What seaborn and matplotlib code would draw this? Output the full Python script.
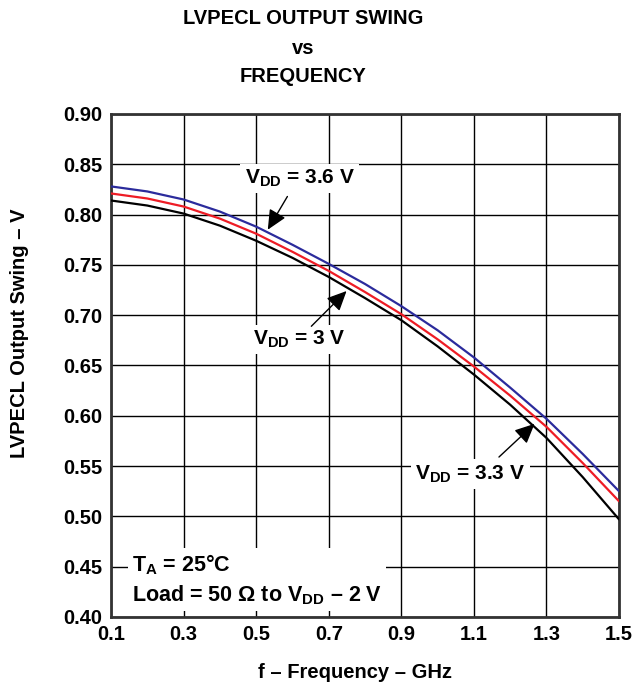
import numpy as np
import pandas as pd
import matplotlib
matplotlib.use("Agg")
import matplotlib.pyplot as plt
import seaborn as sns

# frequency in GHz
freq = [0.1, 0.2, 0.3, 0.4, 0.5, 0.6, 0.7, 0.8, 0.9, 1.0, 1.1, 1.2, 1.3, 1.4, 1.5]

# output swing in V for each supply
swing_36 = [0.828, 0.823, 0.815, 0.803, 0.788, 0.770, 0.751, 0.731, 0.709, 0.685, 0.658, 0.628, 0.597, 0.562, 0.525]
swing_33 = [0.821, 0.816, 0.808, 0.796, 0.781, 0.763, 0.744, 0.723, 0.701, 0.676, 0.649, 0.620, 0.589, 0.553, 0.515]
swing_30 = [0.814, 0.809, 0.801, 0.789, 0.774, 0.757, 0.738, 0.717, 0.695, 0.669, 0.641, 0.611, 0.578, 0.539, 0.497]

series = ["3.6 V", "3.3 V", "3 V"]
colors = ["#2b2b9c", "#ee1c25", "#000000"]

x_ticks = [0.1, 0.3, 0.5, 0.7, 0.9, 1.1, 1.3, 1.5]
y_ticks = [0.40, 0.45, 0.50, 0.55, 0.60, 0.65, 0.70, 0.75, 0.80, 0.85, 0.90]

df = pd.DataFrame({
    "freq": freq * 3,
    "swing": swing_36 + swing_33 + swing_30,
    "vdd": [series[0]] * len(freq) + [series[1]] * len(freq) + [series[2]] * len(freq),
})

sns.set_style("white")
plt.rcParams["font.family"] = ["Liberation Sans", "DejaVu Sans"]
plt.rcParams["font.weight"] = "bold"
plt.rcParams["text.color"] = "black"
plt.rcParams["xtick.color"] = "black"
plt.rcParams["ytick.color"] = "black"
plt.rcParams["mathtext.fontset"] = "custom"
plt.rcParams["mathtext.bf"] = "Liberation Sans:bold"
plt.rcParams["mathtext.rm"] = "Liberation Sans:bold"

fig = plt.figure(figsize=(6.33, 6.9), dpi=100)
ax = fig.add_axes([0.1754, 0.1058, 0.8026, 0.729])

sns.lineplot(data=df, x="freq", y="swing", hue="vdd", palette=colors,
             linewidth=1.6, legend=False, ax=ax, zorder=3)

ax.set_xlim(0.1, 1.5)
ax.set_ylim(0.40, 0.90)
ax.set_xticks(x_ticks)
ax.set_yticks(y_ticks)
ax.set_xticklabels([f"{v:.1f}" for v in x_ticks], fontsize=14.5, fontweight="bold")
ax.set_yticklabels([f"{v:.2f}" for v in y_ticks], fontsize=14.5, fontweight="bold")
ax.tick_params(length=0, pad=6)
ax.grid(True, color="black", linewidth=1.0)
ax.set_axisbelow(True)
for s in ax.spines.values():
    s.set_color("#333333")
    s.set_linewidth(2)
ax.set_xlabel("")
ax.set_ylabel("")

fig.text(303 / 633, 1 - 18 / 690, "LVPECL OUTPUT SWING", ha="center", va="center", fontsize=14.5, fontweight="bold")
fig.text(303 / 633, 1 - 48 / 690, "vs", ha="center", va="center", fontsize=14.5, fontweight="bold")
fig.text(303 / 633, 1 - 76 / 690, "FREQUENCY", ha="center", va="center", fontsize=14.5, fontweight="bold")
fig.text(355 / 633, 1 - 673 / 690, "f \u2013 Frequency \u2013 GHz", ha="center", va="center", fontsize=14.5, fontweight="bold")
fig.text(20 / 633, 1 - 333 / 690, "LVPECL Output Swing \u2013 V", ha="center", va="center", rotation=90, fontsize=14.5, fontweight="bold")

box = dict(facecolor="white", edgecolor="none", pad=3)
arrow = dict(arrowstyle="-|>,head_length=0.6,head_width=0.28", color="black", lw=1,
             shrinkA=0, shrinkB=0, mutation_scale=20)

ax.text(0.62, 0.836, r"$\mathbf{V_{DD}}$ = 3.6 V", ha="center", va="center", fontsize=15, fontweight="bold", bbox=box, zorder=4)
ax.annotate("", xy=(0.532, 0.785), xytext=(0.586, 0.818), arrowprops=arrow, zorder=5)

ax.text(0.62, 0.676, r"$\mathbf{V_{DD}}$ = 3 V", ha="center", va="center", fontsize=15, fontweight="bold", bbox=box, zorder=4)
ax.annotate("", xy=(0.749, 0.724), xytext=(0.652, 0.689), arrowprops=arrow, zorder=5)

ax.text(1.09, 0.542, r"$\mathbf{V_{DD}}$ = 3.3 V", ha="center", va="center", fontsize=15, fontweight="bold", bbox=box, zorder=4)
ax.annotate("", xy=(1.267, 0.592), xytext=(1.169, 0.559), arrowprops=arrow, zorder=5)

ta_text = r"$\mathbf{T_A}$ = 25$\degree$C" + "\n" + "Load = 50 \u03a9 to " + r"$\mathbf{V_{DD}}$" + " \u2013 2 V"
ax.text(0.158, 0.437, ta_text, ha="left", va="center", fontsize=15.5, fontweight="bold",
        linespacing=1.35, bbox=box, zorder=4)

fig.savefig("out.png", dpi=100)
